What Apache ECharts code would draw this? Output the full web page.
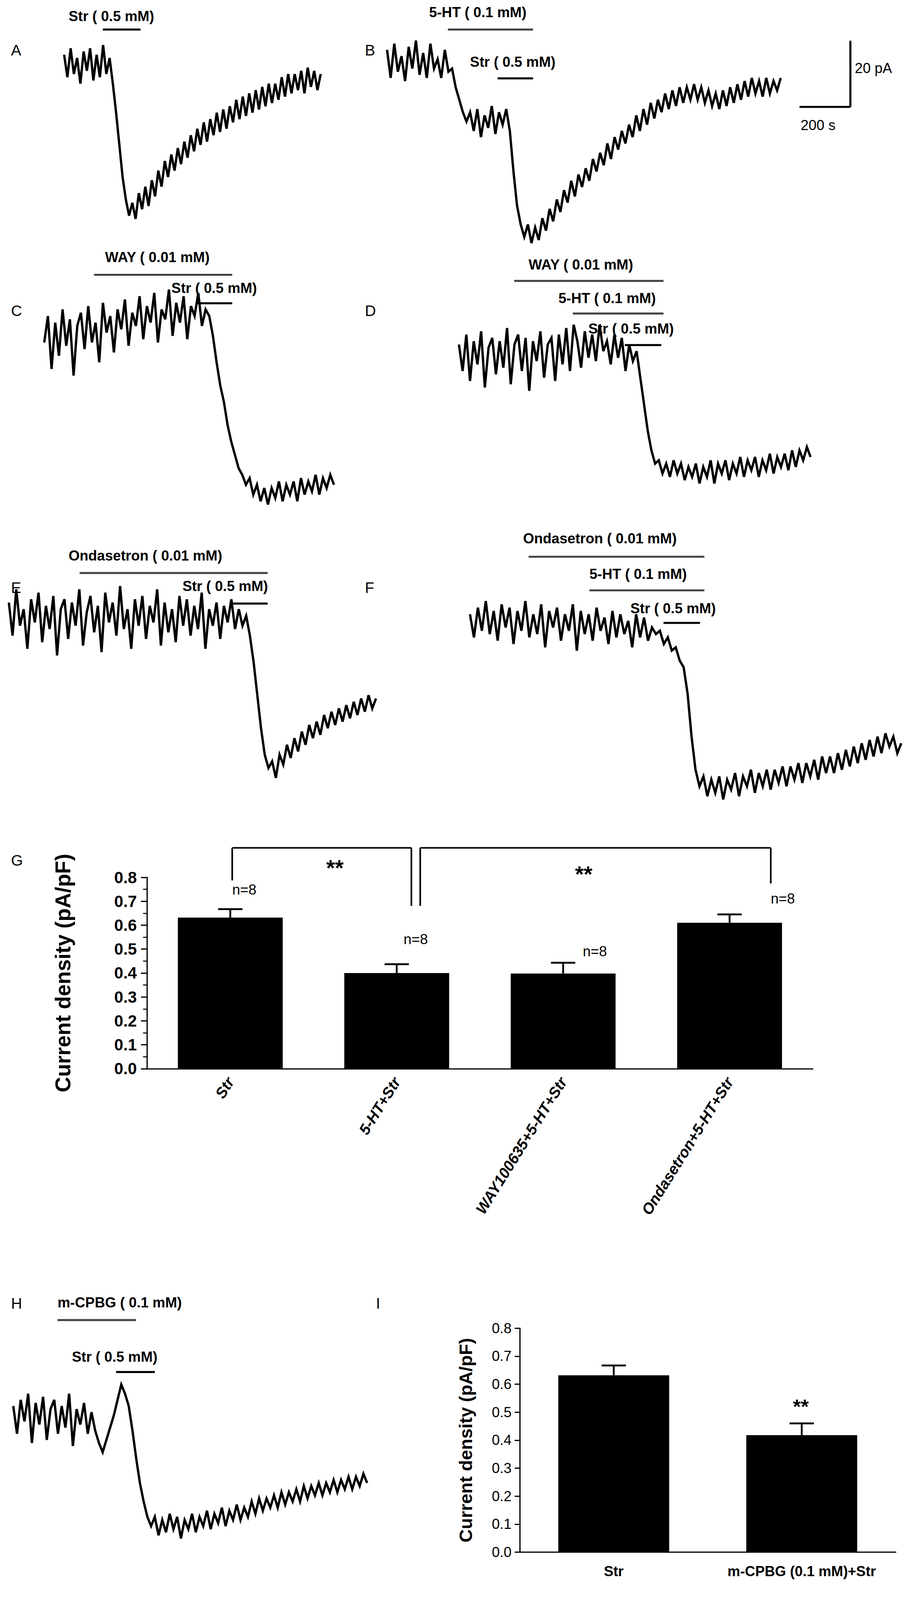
<!DOCTYPE html>
<html><head><meta charset="utf-8">
<script src="https://cdn.jsdelivr.net/npm/echarts@6/dist/echarts.min.js"></script>
<style>html,body{margin:0;padding:0;background:#fff;overflow:hidden}#c{width:100vw;height:100vh}</style>
</head><body><div id="c"></div>
<script>
// ---- trace data (pA, relative to baseline) ----
const traceA = [3,-4,5,-3,2,-6,4,-2,5,-5,3,-4,6,-3,2,-6,-15,-25,-35,-42,-47,-43,-48,-40,-45,-38,-44,-36,-41,-33,-38,-30,-35,-28,-33,-26,-31,-24,-29,-22,-27,-20,-25,-18,-24,-17,-22,-15,-21,-14,-20,-13,-18,-11,-17,-10,-16,-9,-15,-8,-14,-7,-13,-6,-12,-6,-11,-4,-10,-3,-9,-3,-8,-2,-9,-1,-7,-2,-8,-3];
const traceB = [4,-5,6,-3,2,-6,5,-2,7,-4,3,-5,6,-2,1,-5,4,-3,-2,-8,-12,-16,-19,-16,-22,-15,-24,-17,-21,-14,-23,-16,-20,-15,-22,-35,-46,-52,-56,-52,-58,-53,-57,-50,-54,-47,-51,-44,-48,-41,-45,-38,-43,-36,-40,-34,-38,-31,-35,-29,-33,-26,-31,-24,-28,-22,-26,-20,-24,-17,-22,-15,-20,-13,-18,-12,-16,-10,-15,-9,-14,-8,-13,-8,-12,-7,-12,-8,-13,-9,-14,-10,-15,-9,-14,-8,-13,-7,-12,-6,-11,-5,-10,-6,-11,-5,-10,-6,-9,-5];
const traceC = [-2,6,-10,4,-6,8,-3,5,-12,3,7,-4,9,-2,4,-8,10,1,6,-5,8,2,11,-3,7,3,12,-1,9,4,13,-2,8,5,14,0,10,4,12,-1,9,6,13,3,8,6,0,-8,-15,-20,-27,-32,-36,-40,-42,-45,-43,-48,-45,-50,-46,-51,-46,-49,-44,-50,-45,-48,-44,-50,-43,-48,-44,-47,-42,-48,-43,-46,-42,-45];
const traceD = [2,-6,5,-9,3,-4,6,-11,1,4,-7,3,-5,7,-10,2,5,-6,4,-12,3,-3,6,-8,2,4,-9,5,-4,7,-6,8,3,-5,6,-2,5,-3,8,0,3,-4,5,-2,4,-6,2,-3,0,-8,-16,-24,-30,-34,-33,-37,-34,-38,-33,-37,-34,-39,-35,-38,-34,-40,-35,-38,-33,-40,-34,-37,-33,-39,-34,-37,-32,-38,-33,-36,-32,-38,-33,-36,-31,-37,-32,-35,-31,-36,-30,-35,-30,-33,-29,-32];
const traceE = [4,-6,8,-3,2,-10,5,-2,7,-8,3,-4,6,-12,2,5,-7,4,-3,8,-9,1,6,-5,3,-11,7,-2,4,-6,9,-4,2,-10,5,-3,6,-7,3,-2,8,-9,4,-5,2,-8,6,-3,5,-6,3,-4,7,-10,2,-3,4,-7,3,-2,5,-4,2,-3,0,-6,-14,-24,-34,-42,-46,-44,-49,-42,-45,-39,-43,-37,-41,-35,-39,-33,-37,-32,-36,-30,-34,-29,-33,-28,-32,-27,-31,-26,-30,-25,-29,-24,-28,-25];
const traceF = [2,-5,4,-3,6,-4,3,-6,5,-2,4,-7,3,-3,6,-5,2,-4,5,-8,3,-2,4,-6,2,-3,5,-9,3,-4,2,-6,4,-3,1,-7,3,-5,2,-4,0,-8,2,-5,1,-6,-2,-4,-3,-7,-5,-9,-8,-12,-14,-22,-35,-45,-50,-47,-53,-48,-52,-47,-54,-48,-51,-46,-53,-47,-50,-45,-52,-46,-50,-45,-51,-45,-49,-44,-50,-44,-48,-43,-49,-43,-47,-42,-48,-41,-46,-41,-46,-40,-45,-39,-44,-38,-43,-37,-42,-36,-41,-35,-40,-34,-38,-35,-40,-37];
const traceH = [3,-6,5,-2,7,-9,4,-3,6,-8,2,5,-6,3,-4,7,-10,2,-3,4,-6,1,-5,-9,-12,-8,-4,0,5,10,7,3,-5,-14,-22,-28,-33,-36,-33,-39,-34,-38,-32,-37,-33,-40,-34,-37,-32,-38,-33,-36,-31,-37,-32,-35,-30,-36,-31,-34,-29,-34,-30,-33,-28,-32,-27,-31,-27,-30,-26,-30,-25,-29,-25,-28,-24,-28,-23,-27,-23,-26,-22,-26,-22,-25,-21,-25,-21,-24,-20,-24,-20,-23,-19,-22];
// ---- bar data ----
const catsG = ['Str','5-HT+Str','WAY100635+5-HT+Str','Ondasetron+5-HT+Str'];
const meanG = [0.632,0.400,0.398,0.610];
const semG  = [0.035,0.037,0.045,0.035];
const catsI = ['Str','m-CPBG (0.1 mM)+Str'];
const meanI = [0.632,0.418];
const semI  = [0.035,0.042];
const yTicks = ['0.0','0.1','0.2','0.3','0.4','0.5','0.6','0.7','0.8'];

const el = document.getElementById('c');
const W = el.clientWidth || 2326, H = el.clientHeight || 4448;
const SX = W/822, SY = H/1572;
const PX = v => v*SX, PY = v => v*SY, F = v => v*Math.min(SX,SY);
const FONT = 'Liberation Sans, Arial, sans-serif';
const chart = echarts.init(el, null, {renderer:'svg'});

const traces = [
  {d:traceA, x0:58, x1:290, c:58},
  {d:traceB, x0:350, x1:706, c:50},
  {d:traceC, x0:40, x1:302, c:330},
  {d:traceD, x0:415, x1:733, c:345},
  {d:traceE, x0:8, x1:340, c:605},
  {d:traceF, x0:425, x1:815, c:610},
  {d:traceH, x0:12, x1:332, c:1395}
];
const grids=[], xAxes=[], yAxes=[], series=[];
traces.forEach((t,i)=>{
  grids.push({left:PX(t.x0), width:PX(t.x1-t.x0), top:PY(t.c-20*3.25), height:PY(80*3.25)});
  xAxes.push({gridIndex:i, type:'value', min:0, max:t.d.length-1, show:false});
  yAxes.push({gridIndex:i, type:'value', min:-60, max:20, show:false});
  series.push({type:'line', xAxisIndex:i, yAxisIndex:i, data:t.d.map((v,k)=>[k,v]), symbol:'none',
    lineStyle:{color:'#000', width:F(2.3), join:'miter'}, silent:true, animation:false});
});
const gi = grids.length;
grids.push({left:PX(133), width:PX(602), top:PY(862), height:PY(188)});
grids.push({left:PX(470), width:PX(340), top:PY(1305), height:PY(220)});
const axLine = {lineStyle:{color:'#000', width:F(1.2)}};
xAxes.push({gridIndex:gi, type:'category', data:catsG, axisLine:axLine, axisTick:{show:false},
  axisLabel:{rotate:58, fontFamily:FONT, fontWeight:'bold', fontStyle:'italic', fontSize:F(15), color:'#000', interval:0, margin:F(10)}});
xAxes.push({gridIndex:gi+1, type:'category', data:catsI, axisLine:axLine, axisTick:{show:false},
  axisLabel:{fontFamily:FONT, fontWeight:'bold', fontSize:F(14), color:'#000', interval:0, margin:F(12)}});
yAxes.push({gridIndex:gi, type:'value', min:0, max:0.8, interval:0.1, axisLine:{show:true,...axLine},
  axisTick:{show:true, length:F(6), lineStyle:{color:'#000',width:F(1.2)}},
  minorTick:{show:true, splitNumber:2, length:F(4), lineStyle:{color:'#000',width:F(1)}},
  splitLine:{show:false},
  axisLabel:{formatter:v=>yTicks[Math.round(v*10)], fontFamily:FONT, fontWeight:'bold', fontSize:F(16), color:'#000', margin:F(10)},
  name:'Current density (pA/pF)', nameLocation:'middle', nameGap:F(72),
  nameTextStyle:{fontFamily:FONT, fontWeight:'bold', fontSize:F(21), color:'#000'}});
yAxes.push({gridIndex:gi+1, type:'value', min:0, max:0.8, interval:0.1, axisLine:{show:true,...axLine},
  axisTick:{show:true, length:F(5), lineStyle:{color:'#000',width:F(1.2)}},
  splitLine:{show:false},
  axisLabel:{formatter:v=>yTicks[Math.round(v*10)], fontFamily:FONT, fontSize:F(14), color:'#000', margin:F(8)},
  name:'Current density (pA/pF)', nameLocation:'middle', nameGap:F(44),
  nameTextStyle:{fontFamily:FONT, fontWeight:'bold', fontSize:F(18), color:'#000'}});
function errSeries(idx, means, sems){
  return {type:'custom', xAxisIndex:idx, yAxisIndex:idx, data:means.map((m,k)=>[k,m,sems[k]]), z:5, silent:true,
    renderItem:(p,api)=>{
      const top=api.coord([api.value(0),api.value(1)+api.value(2)]);
      const base=api.coord([api.value(0),api.value(1)]);
      const w=PX(11);
      return {type:'group',children:[
        {type:'line',shape:{x1:base[0],y1:base[1],x2:top[0],y2:top[1]},style:{stroke:'#000',lineWidth:F(1.8)}},
        {type:'line',shape:{x1:top[0]-w,y1:top[1],x2:top[0]+w,y2:top[1]},style:{stroke:'#000',lineWidth:F(1.8)}}
      ]};
    }};
}
series.push({type:'bar', xAxisIndex:gi, yAxisIndex:gi, data:meanG, barWidth:'63%', itemStyle:{color:'#000'}, z:3});
series.push(errSeries(gi, meanG, semG));
series.push({type:'bar', xAxisIndex:gi+1, yAxisIndex:gi+1, data:meanI, barWidth:'59%', itemStyle:{color:'#000'}, z:3});
series.push(errSeries(gi+1, meanI, semI));

const T=(txt,x,y,opt={})=>({type:'text', left:PX(x), top:PY(y), style:{text:txt, font:`${opt.b===false?'':'bold '}${F(opt.fs||14)}px ${FONT}`, fill:'#000', textAlign:opt.align||'left'}, silent:true});
const L=(x1,y1,x2,y2,c='#000',w=2)=>({type:'line', shape:{x1:PX(x1),y1:PY(y1),x2:PX(x2),y2:PY(y2)}, style:{stroke:c, lineWidth:F(w)}, silent:true});
const G='#444';
const graphic=[
  T('A',10,42,{fs:15,b:false}), T('B',330,42,{fs:15,b:false}), T('C',10,298,{fs:15,b:false}), T('D',330,298,{fs:15,b:false}),
  T('E',10,570,{fs:15,b:false}), T('F',330,570,{fs:15,b:false}), T('G',10,838,{fs:15,b:false}), T('H',10,1273,{fs:15,b:false}), T('I',340,1273,{fs:15,b:false}),
  T('Str ( 0.5 mM)',62,9), L(93,29,127,29),
  T('5-HT ( 0.1 mM)',388,5), L(405,29,482,29,G), T('Str ( 0.5 mM)',425,54), L(450,77,482,77),
  L(769,40,769,105), L(723,105,769,105), T('20 pA',773,60,{b:false}), T('200 s',724,116,{b:false}),
  T('WAY ( 0.01 mM)',95,246), L(85,270,210,270,G), T('Str ( 0.5 mM)',155,276), L(178,298,210,298),
  T('WAY ( 0.01 mM)',478,253), L(465,276,600,276,G), T('5-HT ( 0.1 mM)',505,286), L(518,308,600,308,G), T('Str ( 0.5 mM)',532,316), L(565,339,598,339),
  T('Ondasetron ( 0.01 mM)',62,539), L(72,563,242,563,G), T('Str ( 0.5 mM)',165,569), L(210,593,242,593),
  T('Ondasetron ( 0.01 mM)',473,522), L(478,547,637,547,G), T('5-HT ( 0.1 mM)',533,557), L(533,580,637,580,G), T('Str ( 0.5 mM)',570,591), L(600,612,633,612),
  T('m-CPBG ( 0.1 mM)',52,1273), L(52,1297,123,1297,G), T('Str ( 0.5 mM)',65,1326), L(105,1348,140,1348),
  T('n=8',210,867,{align:'center',b:false}), T('n=8',365,916,{align:'center',b:false}), T('n=8',527,928,{align:'center',b:false}), T('n=8',697,876,{align:'center',b:false}),
  L(210,865,210,833,'#000',1.6), L(210,833,372,833,'#000',1.6), L(372,833,372,890,'#000',1.6),
  L(380,890,380,833,'#000',1.6), L(380,833,697,833,'#000',1.6), L(697,833,697,868,'#000',1.6),
  T('**',295,842,{fs:22,align:'center'}), T('**',520,848,{fs:22,align:'center'}),
  T('n=8',570,1362,{align:'center',b:false}), T('**',717,1372,{fs:20,align:'center'}), T('n=8',717,1428,{align:'center',b:false})
];
chart.setOption({animation:false, backgroundColor:'#fff', grid:grids, xAxis:xAxes, yAxis:yAxes, series, graphic});
</script></body></html>
